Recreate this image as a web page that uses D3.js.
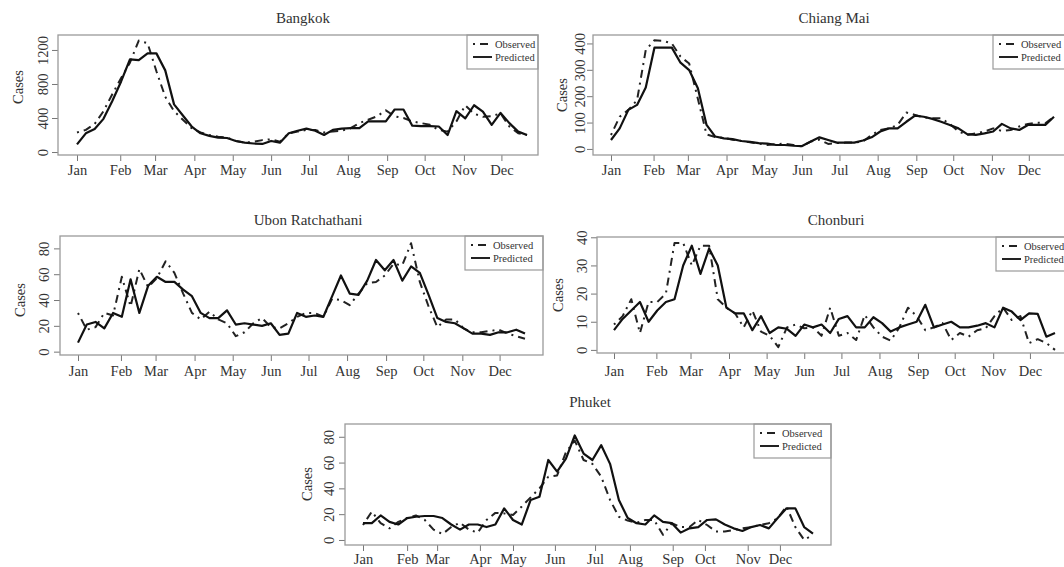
<!DOCTYPE html>
<html>
<head>
<meta charset="utf-8">
<script src="https://cdn.jsdelivr.net/npm/d3@7"></script>
<style>
	body { margin: 0; background: #fff; }
	svg text { font-family: "Liberation Serif", "DejaVu Serif", serif; }
</style>
</head>
<body>
<div id="chart"></div>
<script>
const MONTHS = ["Jan", "Feb", "Mar", "Apr", "May", "Jun", "Jul", "Aug", "Sep", "Oct", "Nov", "Dec"];

// week index (1..52) where each month label sits
const monthWeeks = [1, 5.9, 9.85, 14.3, 18.65, 23, 27.3, 31.7, 36.15, 40.4, 44.85, 49.1];
const phuketMonthWeeks = [1, 6, 9.4, 14.25, 18, 22.75, 27.3, 31.25, 36.1, 39.75, 44.6, 48.25];

const bangkokTicks = [0, 400, 800, 1200];
const chiangMaiTicks = [0, 100, 200, 300, 400];
const ubonTicks = [0, 20, 40, 60, 80];
const chonburiTicks = [0, 10, 20, 30, 40];
const phuketTicks = [0, 20, 40, 60, 80];

const bangkokObserved = [230, 260, 330, 480, 680, 870, 1050, 1310, 1280, 950, 650, 480, 380, 280, 230, 200, 180, 170, 130, 110, 120, 140, 150, 120, 220, 240, 260, 260, 230, 240, 250, 280, 340, 380, 420, 490, 420, 400, 360, 340, 320, 260, 240, 360, 550, 450, 415, 420, 455, 300, 220, 200];
const bangkokPredicted = [90, 220, 270, 390, 600, 830, 1090, 1080, 1160, 1160, 960, 560, 430, 300, 220, 190, 170, 165, 130, 110, 100, 95, 130, 110, 220, 250, 275, 250, 200, 260, 275, 280, 280, 360, 360, 360, 500, 500, 310, 305, 305, 300, 200, 480, 395, 550, 475, 320, 460, 340, 240, 200];

const chiangMaiObserved = [53, 122, 148, 185, 375, 412, 410, 400, 350, 324, 190, 55, 45, 42, 35, 30, 25, 20, 15, 18, 20, 15, 10, 28, 35, 19, 22, 24, 24, 28, 53, 72, 78, 91, 138, 129, 120, 116, 116, 95, 66, 53, 59, 66, 78, 68, 72, 85, 95, 100, 97, 122];
const chiangMaiPredicted = [34, 78, 148, 167, 233, 384, 384, 384, 327, 299, 230, 91, 47, 40, 37, 30, 27, 22, 20, 15, 15, 12, 11, 28, 44, 34, 24, 24, 24, 32, 44, 66, 78, 78, 103, 126, 122, 114, 103, 91, 78, 56, 53, 59, 66, 95, 78, 72, 91, 91, 91, 122];

const ubonObserved = [30, 17, 19, 30, 28, 58, 35, 64, 50, 57, 70, 61, 45, 30, 25, 31, 25, 22, 12, 15, 22, 26, 19, 18, 22, 27, 30, 30, 27, 41, 40, 36, 45, 53, 54, 59, 68, 67, 84, 54, 35, 19, 25, 25, 18, 15, 15, 16, 17, 14, 12, 10];
const ubonPredicted = [7, 21, 23, 18, 30, 27, 56, 30, 51, 58, 54, 54, 48, 43, 30, 26, 26, 32, 21, 22, 21, 20, 22, 13, 14, 30, 27, 28, 27, 43, 59, 45, 44, 55, 71, 63, 71, 55, 66, 61, 44, 26, 23, 22, 18, 14, 14, 13, 15, 15, 17, 14];

const chonburiObserved = [9, 12, 18, 6, 17, 17, 20, 38, 38, 30, 37, 37, 18, 15, 13, 8, 14, 6.5, 5, 1, 8, 9, 7.7, 8, 5, 15, 5, 6, 3.5, 12.4, 8, 4.7, 3.3, 8, 15, 12, 7, 8, 9.5, 3.5, 6, 4.7, 7, 7.7, 12, 15, 10.6, 12, 2.4, 3.8, 2.4, 0];
const chonburiPredicted = [7, 11, 14, 17, 10, 14, 17, 18, 30, 37, 27, 36, 30, 15, 13, 13, 7, 12, 6, 8, 7.5, 5, 9, 8, 9, 6, 11, 12, 8, 8, 11.6, 9.5, 6.5, 8, 9, 10, 16, 8, 9, 10, 8, 8, 8.6, 9.5, 8, 15, 13.6, 10.6, 13, 12.8, 4.7, 6];

const phuketObserved = [11.6, 22, 13, 9, 14, 17, 19, 15.5, 8, 4.6, 10, 13.4, 8, 5.7, 15.5, 21, 20.6, 19.4, 26, 33, 40, 49, 50, 68, 77, 62, 59, 49, 31, 18, 15, 13.4, 15.5, 15.5, 4, 13, 10, 10, 15.5, 11.6, 6.5, 6.5, 7.7, 9, 10, 11.6, 13, 17, 26, 10, 0, 4];
const phuketPredicted = [13, 13, 19, 14, 12, 17, 18, 18.6, 18.6, 17, 12, 8, 12, 12, 10, 12, 24.5, 15.5, 12, 31, 33.5, 62, 53, 63, 81, 67, 62, 73.5, 59, 31, 17, 13, 12, 19, 14, 13, 5.7, 9, 10, 15.5, 16, 12, 9, 7, 10, 11.6, 9, 17, 24.5, 24.5, 10, 5];

// layout of the five panels (pixels)
const panels = [
	{ title: "Bangkok", observed: bangkokObserved, predicted: bangkokPredicted, yTicks: bangkokTicks, months: monthWeeks,
		yDomain: [-35, 1376], box: [58, 35, 538, 155], xr: [77, 527], titleX: 303, titleY: 23,
		labelX: 23, labelY: 87, tickX: 48, tickY: 20, legendW: 71 },
	{ title: "Chiang Mai", observed: chiangMaiObserved, predicted: chiangMaiPredicted, yTicks: chiangMaiTicks, months: monthWeeks,
		yDomain: [-23, 432], box: [593, 35, 1070, 155], xr: [611, 1054], titleX: 834, titleY: 23,
		labelX: 567, labelY: 95, tickX: 585, tickY: 20, legendW: 77 },
	{ title: "Ubon Ratchathani", observed: ubonObserved, predicted: ubonPredicted, yTicks: ubonTicks, months: monthWeeks,
		yDomain: [-2.6, 89.6], box: [60, 236, 543, 355], xr: [78, 525], titleX: 308, titleY: 225,
		labelX: 25, labelY: 300, tickX: 49, tickY: 21, legendW: 78 },
	{ title: "Chonburi", observed: chonburiObserved, predicted: chonburiPredicted, yTicks: chonburiTicks, months: monthWeeks,
		yDomain: [-1.1, 40.1], box: [597, 237, 1070, 353], xr: [614, 1055], titleX: 836, titleY: 225,
		labelX: 563, labelY: 295, tickX: 587, tickY: 23, legendW: 74 },
	{ title: "Phuket", observed: phuketObserved, predicted: phuketPredicted, yTicks: phuketTicks, months: phuketMonthWeeks,
		yDomain: [-3.9, 89.9], box: [345, 424, 831, 545], xr: [363, 813], titleX: 590, titleY: 407,
		labelX: 312, labelY: 484, tickX: 334, tickY: 19, legendW: 77 },
];

const textColor = "#333";
const frameColor = "#9a9a9a";

const svg = d3
	.select("#chart")
	.append("svg")
	.attr("width", 1064)
	.attr("height", 567)
	.style("font-family", '"Liberation Serif", "DejaVu Serif", serif');

panels.forEach((p) => {
	const [x0, y0, x1, y1] = p.box;
	const xScale = d3.scaleLinear().domain([1, p.observed.length]).range(p.xr);
	const yScale = d3.scaleLinear().domain(p.yDomain).range([y1, y0]);
	const g = svg.append("g");

	g.append("text")
		.attr("x", p.titleX)
		.attr("y", p.titleY)
		.attr("text-anchor", "middle")
		.attr("fill", textColor)
		.style("font-size", "15px")
		.text(p.title);

	const xAxis = d3
		.axisBottom(xScale)
		.tickValues(p.months)
		.tickFormat((d, i) => MONTHS[i])
		.tickSize(6);
	const gx = g
		.append("g")
		.attr("transform", "translate(0," + y1 + ")")
		.call(xAxis);
	gx.attr("font-family", null).attr("font-size", null);
	gx.select(".domain").remove();
	gx.selectAll("line").attr("stroke", "#777");
	gx.selectAll("text")
		.attr("y", p.tickY)
		.attr("dy", 0)
		.attr("fill", textColor)
		.style("font-size", "14.5px");

	const yAxis = d3
		.axisLeft(yScale)
		.tickValues(p.yTicks)
		.tickFormat(d3.format("d"))
		.tickSize(6);
	const gy = g
		.append("g")
		.attr("transform", "translate(" + x0 + ",0)")
		.call(yAxis);
	gy.attr("font-family", null).attr("font-size", null);
	gy.select(".domain").remove();
	gy.selectAll("line").attr("stroke", "#777");
	gy.selectAll("text")
		.attr("x", 0)
		.attr("dy", 0)
		.attr("text-anchor", "middle")
		.attr("transform", "translate(" + (p.tickX - x0) + ",0) rotate(-90)")
		.attr("fill", textColor)
		.style("font-size", "14.5px");

	g.append("text")
		.attr("transform", "translate(" + p.labelX + "," + p.labelY + ") rotate(-90)")
		.attr("text-anchor", "middle")
		.attr("fill", textColor)
		.style("font-size", "14.5px")
		.text("Cases");

	const line = d3
		.line()
		.x((d, i) => xScale(i + 1))
		.y((d) => yScale(d));

	g.append("path")
		.datum(p.observed)
		.attr("d", line)
		.attr("fill", "none")
		.attr("stroke", "#222")
		.attr("stroke-width", 2)
		.attr("stroke-dasharray", "2,5,8,5")
		.attr("stroke-linejoin", "round");

	g.append("path")
		.datum(p.predicted)
		.attr("d", line)
		.attr("fill", "none")
		.attr("stroke", "#111")
		.attr("stroke-width", 2.2)
		.attr("stroke-linejoin", "round");

	// legend
	const lx = x1 - p.legendW;
	const lg = g.append("g").attr("transform", "translate(" + lx + "," + y0 + ")");
	lg.append("rect")
		.attr("width", p.legendW)
		.attr("height", 34)
		.attr("fill", "#fff")
		.attr("stroke", frameColor)
		.attr("stroke-width", 1.2);
	const rows = [
		{ label: "Observed", dash: "2,5,8,5", y: 9 },
		{ label: "Predicted", dash: null, y: 22 },
	];
	rows.forEach((r) => {
		lg.append("line")
			.attr("x1", 6)
			.attr("x2", 25)
			.attr("y1", r.y)
			.attr("y2", r.y)
			.attr("stroke", "#222")
			.attr("stroke-width", 2)
			.attr("stroke-dasharray", r.dash);
		lg.append("text")
			.attr("x", 28)
			.attr("y", r.y + 3.5)
			.attr("fill", textColor)
			.style("font-size", "10.5px")
			.text(r.label);
	});

	g.append("rect")
		.attr("x", x0)
		.attr("y", y0)
		.attr("width", x1 - x0)
		.attr("height", y1 - y0)
		.attr("fill", "none")
		.attr("stroke", frameColor)
		.attr("stroke-width", 1.3);
});
</script>
</body>
</html>
